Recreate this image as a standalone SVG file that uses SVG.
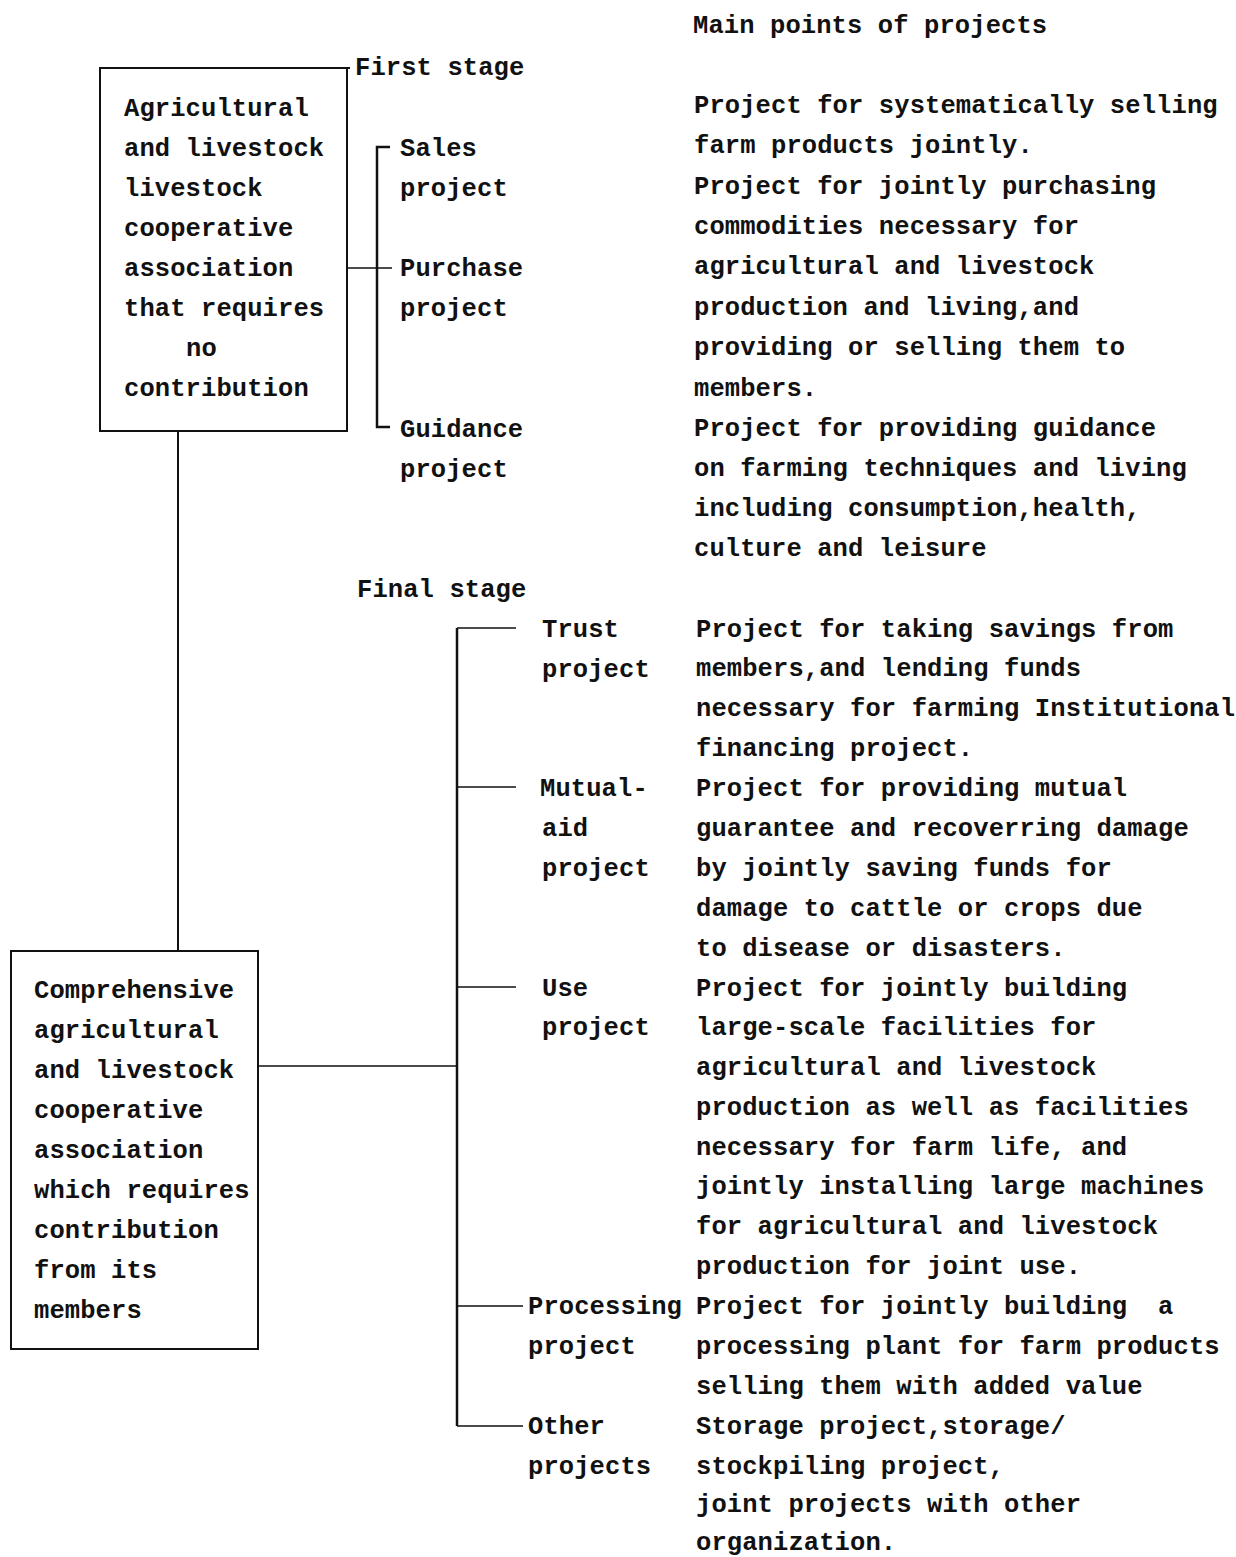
<svg xmlns="http://www.w3.org/2000/svg" width="1236" height="1557" viewBox="0 0 1236 1557">
<style>
text{font-family:"Liberation Mono","Courier New",monospace;font-size:25.5px;font-weight:bold;letter-spacing:0.1px;fill:#111}
.box{fill:none;stroke:#111;stroke-width:2}
.br{fill:none;stroke:#111;stroke-width:2.5}
.ln{fill:none;stroke:#111;stroke-width:1.5}
</style>
<rect width="1236" height="1557" fill="#fff"/>
<g id="header"><text x="693" y="33">Main points of projects</text></g>

<g id="node-no-contribution">
<path class="box" d="M350 68 H100 V431 H347 V68"/>
<text x="124" y="116">Agricultural</text>
<text x="124" y="156">and livestock</text>
<text x="124" y="196">livestock</text>
<text x="124" y="236">cooperative</text>
<text x="124" y="276">association</text>
<text x="124" y="316">that requires</text>
<text x="186" y="356">no</text>
<text x="124" y="396">contribution</text>
</g>

<g id="first-stage">
<text x="355" y="75">First stage</text>
</g>

<g id="sales"><text x="400" y="156">Sales</text><text x="400" y="196">project</text></g>
<g id="purchase"><text x="400" y="276">Purchase</text><text x="400" y="316">project</text></g>
<g id="guidance"><text x="400" y="437">Guidance</text><text x="400" y="477">project</text></g>

<g id="desc-first">
<text x="694" y="113">Project for systematically selling</text>
<text x="694" y="153">farm products jointly.</text>
<text x="694" y="194">Project for jointly purchasing</text>
<text x="694" y="234">commodities necessary for</text>
<text x="694" y="274">agricultural and livestock</text>
<text x="694" y="315">production and living,and</text>
<text x="694" y="355">providing or selling them to</text>
<text x="694" y="396">members.</text>
<text x="694" y="436">Project for providing guidance</text>
<text x="694" y="476">on farming techniques and living</text>
<text x="694" y="516">including consumption,health,</text>
<text x="694" y="556">culture and leisure</text>
</g>

<g id="final-stage"><text x="357" y="597">Final stage</text></g>

<g id="node-comprehensive">
<rect class="box" x="11" y="951" width="247" height="398"/>
<text x="34" y="998">Comprehensive</text>
<text x="34" y="1038">agricultural</text>
<text x="34" y="1078">and livestock</text>
<text x="34" y="1118">cooperative</text>
<text x="34" y="1158">association</text>
<text x="34" y="1198">which requires</text>
<text x="34" y="1238">contribution</text>
<text x="34" y="1278">from its</text>
<text x="34" y="1318">members</text>
</g>

<g id="trust"><text x="542" y="637">Trust</text><text x="542" y="677">project</text></g>
<g id="mutual"><text x="540" y="796">Mutual-</text><text x="542" y="836">aid</text><text x="542" y="876">project</text></g>
<g id="use"><text x="542" y="996">Use</text><text x="542" y="1035">project</text></g>
<g id="processing"><text x="528" y="1314">Processing</text><text x="528" y="1354">project</text></g>
<g id="other"><text x="528" y="1434">Other</text><text x="528" y="1474">projects</text></g>

<g id="desc-final">
<text x="696" y="637">Project for taking savings from</text>
<text x="696" y="676">members,and lending funds</text>
<text x="696" y="716">necessary for farming Institutional</text>
<text x="696" y="756">financing project.</text>
<text x="696" y="796">Project for providing mutual</text>
<text x="696" y="836">guarantee and recoverring damage</text>
<text x="696" y="876">by jointly saving funds for</text>
<text x="696" y="916">damage to cattle or crops due</text>
<text x="696" y="956">to disease or disasters.</text>
<text x="696" y="996">Project for jointly building</text>
<text x="696" y="1035">large-scale facilities for</text>
<text x="696" y="1075">agricultural and livestock</text>
<text x="696" y="1115">production as well as facilities</text>
<text x="696" y="1155">necessary for farm life, and</text>
<text x="696" y="1194">jointly installing large machines</text>
<text x="696" y="1234">for agricultural and livestock</text>
<text x="696" y="1274">production for joint use.</text>
<text x="696" y="1314" xml:space="preserve">Project for jointly building  a</text>
<text x="696" y="1354">processing plant for farm products</text>
<text x="696" y="1394">selling them with added value</text>
<text x="696" y="1434">Storage project,storage/</text>
<text x="696" y="1474">stockpiling project,</text>
<text x="696" y="1512">joint projects with other</text>
<text x="696" y="1550">organization.</text>
</g>

<g id="connectors">
<line class="box" x1="178" y1="431" x2="178" y2="951"/>
<path class="br" d="M390 147 H377 V427 H390"/>
<line class="ln" x1="347" y1="268" x2="392" y2="268"/>
<line class="br" x1="457" y1="628" x2="457" y2="1426"/>
<line class="ln" x1="457" y1="628" x2="516" y2="628"/>
<line class="ln" x1="457" y1="787" x2="516" y2="787"/>
<line class="ln" x1="457" y1="987" x2="516" y2="987"/>
<line class="ln" x1="457" y1="1306" x2="523" y2="1306"/>
<line class="ln" x1="457" y1="1426" x2="523" y2="1426"/>
<line class="ln" x1="258" y1="1066" x2="457" y2="1066"/>
</g>
</svg>
